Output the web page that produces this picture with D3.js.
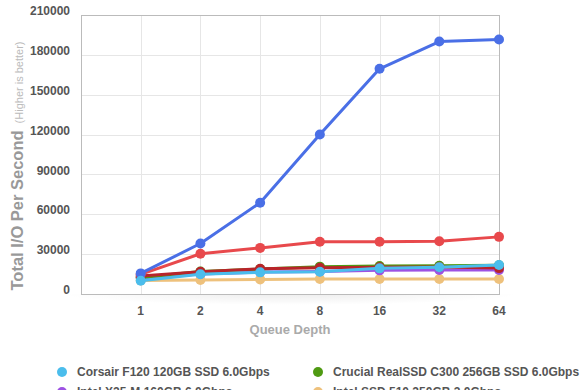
<!DOCTYPE html>
<html>
<head>
<meta charset="utf-8">
<script src="https://cdn.jsdelivr.net/npm/d3@7"></script>
<style>
  body { margin: 0; background: #fff; }
  svg { font-family: "Liberation Sans", Arial, Helvetica, sans-serif; display: block; }
</style>
</head>
<body>
<div id="chart"></div>
<script>
// queue depths on the x axis
var depths = ["1", "2", "4", "8", "16", "32", "64"];
var yTicks = [0, 30000, 60000, 90000, 120000, 150000, 180000, 210000];

// IOPS
var corsair = [10000, 14800, 16300, 16800, 19300, 20100, 21800];
var crucial = [12500, 17000, 18800, 20600, 21000, 21300, 21600];
var intelX25 = [12000, 15000, 16500, 17000, 17800, 18000, 18000];
var intel510 = [10200, 10500, 11000, 11300, 11300, 11300, 11300];
var revodrive = [15500, 38000, 68750, 120000, 169500, 190000, 191500];
var vertex = [14800, 30300, 34700, 39300, 39300, 39700, 43000];
var darkred = [13500, 16800, 19000, 19800, 20200, 20300, 19500];

var names = ["Corsair F120 120GB SSD 6.0Gbps", "Crucial RealSSD C300 256GB SSD 6.0Gbps",
  "Intel X25-M 160GB 6.0Gbps", "Intel SSD 510 250GB 3.0Gbps",
  "OCZ RevoDrive 3 X2 240GB", "OCZ Vertex 3 240GB SSD 6.0Gbps", "OCZ Vertex 2 120GB SSD 3.0Gbps"];
var colors = ["#4bbdec", "#4f9a12", "#9d52e3", "#eec17c", "#4a6fe6", "#e8494c", "#b8242a"];
var values = [corsair, crucial, intelX25, intel510, revodrive, vertex, darkred];

// drawing order: later ones end up on top
var drawOrder = [3, 2, 1, 6, 5, 4, 0];

var width = 580, height = 390;
var margin = {top: 15, right: 81, bottom: 96, left: 81};

var svg = d3.select("#chart").append("svg")
  .attr("width", width)
  .attr("height", height);

var x = d3.scaleLinear()
  .domain([-1, depths.length - 1])
  .range([margin.left, width - margin.right]);

var y = d3.scaleLinear()
  .domain([0, 210000])
  .range([height - margin.bottom, margin.top]);

// soft shadow under the plot
var defs = svg.append("defs");
var grad = defs.append("radialGradient").attr("id", "shade")
  .attr("cx", "50%").attr("cy", "0%").attr("r", "50%");
grad.append("stop").attr("offset", "0%").attr("stop-color", "#000").attr("stop-opacity", 0.07);
grad.append("stop").attr("offset", "100%").attr("stop-color", "#000").attr("stop-opacity", 0);
svg.append("rect")
  .attr("x", 60).attr("y", y(0))
  .attr("width", 460).attr("height", 22)
  .attr("fill", "url(#shade)");

svg.append("rect")
  .attr("x", margin.left).attr("y", margin.top)
  .attr("width", width - margin.left - margin.right)
  .attr("height", y(0) - margin.top)
  .attr("fill", "#fff");

// grid
svg.append("g").selectAll("line")
  .data(yTicks.slice(1, -1))
  .enter().append("line")
  .attr("x1", margin.left).attr("x2", width - margin.right)
  .attr("y1", function(d) { return Math.round(y(d)) + 0.5; })
  .attr("y2", function(d) { return Math.round(y(d)) + 0.5; })
  .attr("stroke", "#e6e6e6");

svg.append("g").selectAll("line")
  .data(depths.slice(0, -1))
  .enter().append("line")
  .attr("x1", function(d, i) { return Math.round(x(i)) + 0.5; })
  .attr("x2", function(d, i) { return Math.round(x(i)) + 0.5; })
  .attr("y1", margin.top).attr("y2", y(0))
  .attr("stroke", "#e6e6e6");

svg.append("rect")
  .attr("x", margin.left + 0.5).attr("y", margin.top + 0.5)
  .attr("width", width - margin.left - margin.right)
  .attr("height", y(0) - margin.top)
  .attr("fill", "none")
  .attr("stroke", "#bbb");

// axis labels
svg.append("g").selectAll("text")
  .data(yTicks)
  .enter().append("text")
  .attr("x", 70)
  .attr("y", function(d) { return y(d) - 4; })
  .attr("dy", "0.35em")
  .attr("text-anchor", "end")
  .attr("font-size", 12)
  .attr("font-weight", "bold")
  .attr("fill", "#555")
  .text(function(d) { return d; });

svg.append("g").selectAll("text")
  .data(depths)
  .enter().append("text")
  .attr("x", function(d, i) { return x(i); })
  .attr("y", 315)
  .attr("text-anchor", "middle")
  .attr("font-size", 12)
  .attr("font-weight", "bold")
  .attr("fill", "#555")
  .text(function(d) { return d; });

svg.append("text")
  .attr("x", 290).attr("y", 334)
  .attr("text-anchor", "middle")
  .attr("font-size", 13)
  .attr("font-weight", "bold")
  .attr("fill", "#aaa")
  .text("Queue Depth");

var ytitle = svg.append("text")
  .attr("transform", "translate(23,166) rotate(-90)")
  .attr("text-anchor", "middle")
  .attr("font-size", 16.5)
  .attr("font-weight", "bold")
  .attr("fill", "#999");
ytitle.append("tspan").text("Total I/O Per Second");
ytitle.append("tspan")
  .attr("font-size", 11)
  .attr("font-weight", "normal")
  .attr("fill", "#bbb")
  .attr("dx", 7)
  .text("(Higher is better)");

// series
var line = d3.line()
  .x(function(d, i) { return x(i); })
  .y(function(d) { return y(d); });

var series = svg.append("g").selectAll("g")
  .data(drawOrder)
  .enter().append("g");

series.append("path")
  .attr("d", function(k) { return line(values[k]); })
  .attr("fill", "none")
  .attr("stroke", function(k) { return colors[k]; })
  .attr("stroke-width", 3)
  .attr("stroke-linejoin", "round");

series.selectAll("circle")
  .data(function(k) { return values[k].map(function(v) { return {k: k, v: v}; }); })
  .enter().append("circle")
  .attr("cx", function(d, i) { return x(i); })
  .attr("cy", function(d) { return y(d.v); })
  .attr("r", 5)
  .attr("fill", function(d) { return colors[d.k]; });

// legend, two columns
var legend = svg.append("g").selectAll("g")
  .data(names)
  .enter().append("g")
  .attr("transform", function(d, i) {
    return "translate(" + (i % 2 ? 318 : 62) + "," + (372 + Math.floor(i / 2) * 20) + ")";
  });

legend.append("circle")
  .attr("r", 5)
  .attr("fill", function(d, i) { return colors[i]; });

legend.append("text")
  .attr("x", 15)
  .attr("dy", "0.35em")
  .attr("font-size", 12)
  .attr("font-weight", "bold")
  .attr("fill", "#555")
  .text(function(d) { return d; });
</script>
</body>
</html>
